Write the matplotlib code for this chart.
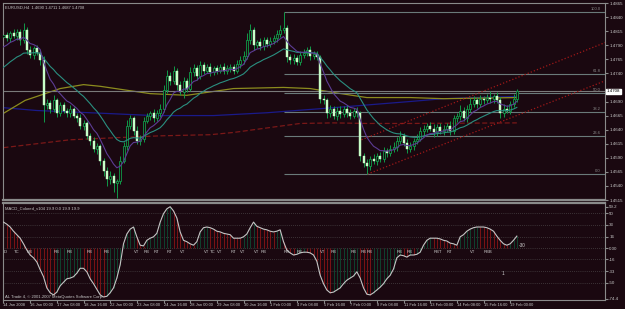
import numpy as np
import pandas as pd
import matplotlib.pyplot as plt

plt.rcParams['font.family'] = ['Liberation Sans', 'DejaVu Sans']

W, H = 625, 309
bg = "#1a0810"
txt = "#c8c8c8"
grey = "#8a8a8a"

# EURUSD H4 closes, one per bar (open = previous close)
first_open = 1.4805
close = [
    1.4808, 1.4802, 1.4811, 1.4806, 1.4813, 1.4799, 1.4817, 1.4781, 1.4772, 1.4785,
    1.4777, 1.4763, 1.4683, 1.4688, 1.4677, 1.4692, 1.4670, 1.4683, 1.4674, 1.4669,
    1.4677, 1.4665, 1.4660, 1.4647, 1.4652, 1.4629, 1.4620, 1.4606, 1.4611, 1.4585,
    1.4567, 1.4552, 1.4558, 1.4545, 1.4549, 1.4585, 1.4611, 1.4647, 1.4660, 1.4638,
    1.4620, 1.4624, 1.4656, 1.4665, 1.4670, 1.4660, 1.4670, 1.4677, 1.4710, 1.4736,
    1.4727, 1.4745, 1.4719, 1.4706, 1.4727, 1.4713, 1.4742, 1.4749, 1.4735, 1.4754,
    1.4745, 1.4752, 1.4742, 1.4749, 1.4745, 1.4751, 1.4744, 1.4749, 1.4752, 1.4745,
    1.4756, 1.4763, 1.4770, 1.4799, 1.4817, 1.4790, 1.4795, 1.4788, 1.4799, 1.4792,
    1.4797, 1.4802, 1.4810, 1.4817, 1.4820, 1.4769, 1.4763, 1.4767, 1.4760, 1.4772,
    1.4777, 1.4781, 1.4770, 1.4774, 1.4769, 1.4695, 1.4692, 1.4670, 1.4677, 1.4665,
    1.4674, 1.4667, 1.4677, 1.4670, 1.4665, 1.4674, 1.4669, 1.4594, 1.4581, 1.4576,
    1.4588, 1.4585, 1.4594, 1.4588, 1.4602, 1.4599, 1.4606, 1.4610, 1.4620, 1.4629,
    1.4617, 1.4606, 1.4611, 1.4620, 1.4624, 1.4638, 1.4642, 1.4647, 1.4642, 1.4635,
    1.4645, 1.4638, 1.4642, 1.4647, 1.4638, 1.4660, 1.4665, 1.4674, 1.4660, 1.4677,
    1.4686, 1.4692, 1.4685, 1.4695, 1.4692, 1.4697, 1.4694, 1.4699, 1.4692, 1.4669,
    1.4677, 1.4674, 1.4685, 1.4695, 1.4708,
]
# wick lengths in pips above / below the body
upper_pips = [
    5, 6, 4, 8, 5, 6, 12, 5, 7, 4,
    6, 5, 8, 6, 5, 9, 4, 6, 7, 5,
    6, 4, 5, 8, 6, 4, 5, 7, 6, 4,
    5, 6, 8, 5, 4, 9, 7, 10, 6, 5,
    8, 6, 7, 5, 4, 6, 5, 8, 9, 10,
    6, 8, 5, 7, 6, 4, 9, 7, 5, 8,
    6, 5, 7, 4, 6, 5, 7, 6, 5, 4,
    8, 7, 9, 12, 10, 6, 5, 7, 6, 5,
    8, 6, 7, 9, 29, 6, 5, 7, 5, 8,
    6, 5, 7, 6, 5, 4, 6, 5, 7, 5,
    6, 8, 5, 6, 7, 5, 6, 4, 5, 7,
    6, 8, 5, 6, 7, 5, 6, 8, 7, 9,
    5, 6, 7, 5, 8, 6, 7, 5, 6, 8,
    5, 7, 6, 5, 8, 6, 5, 9, 7, 6,
    10, 8, 6, 7, 5, 6, 12, 5, 7, 6,
    8, 7, 6, 9, 5,
]
lower_pips = [
    6, 5, 7, 4, 6, 8, 5, 6, 5, 7,
    5, 8, 30, 6, 7, 5, 8, 6, 5, 7,
    6, 5, 7, 6, 8, 5, 7, 6, 9, 8,
    10, 12, 8, 15, 27, 6, 5, 7, 6, 8,
    5, 7, 6, 5, 8, 6, 5, 7, 6, 5,
    7, 6, 8, 5, 9, 6, 5, 7, 6, 5,
    6, 5, 7, 5, 6, 4, 6, 5, 7, 6,
    5, 7, 6, 5, 6, 8, 5, 7, 6, 5,
    6, 5, 7, 6, 5, 8, 6, 7, 5, 6,
    5, 6, 7, 5, 6, 8, 6, 9, 7, 6,
    7, 6, 5, 8, 6, 5, 7, 9, 8, 15,
    7, 6, 8, 5, 6, 7, 5, 6, 8, 5,
    6, 7, 5, 8, 6, 5, 7, 6, 5, 8,
    6, 5, 7, 6, 8, 5, 6, 7, 5, 6,
    5, 6, 7, 5, 6, 5, 7, 6, 5, 8,
    6, 5, 7, 5, 6,
]

# moving averages: fast ones seeded with their value at the left edge
purple_seed, teal_seed = 1.4781, 1.4745
# slow averages read at a few bars
olive_bars = [0, 6.5, 17, 24, 29, 37, 44, 55, 69, 84, 92, 99, 109, 122, 132, 154]
olive_vals = [1.4669, 1.4692, 1.4713, 1.4720, 1.4717, 1.4710, 1.4704, 1.4701,
              1.4713, 1.4715, 1.4713, 1.4706, 1.4697, 1.4697, 1.4695, 1.4697]
blue_bars = [0, 10, 30, 45, 63, 79, 99, 122, 132, 142, 154]
blue_vals = [1.4679, 1.4674, 1.4669, 1.4665, 1.4665, 1.4670, 1.4679, 1.4690,
             1.4695, 1.4697, 1.4699]
red_bars = [0, 10, 20, 35, 47, 62, 69, 89, 99, 109, 122, 154]
red_vals = [1.4608, 1.4615, 1.4622, 1.4626, 1.4629, 1.4631, 1.4635, 1.4651,
            1.4652, 1.4651, 1.4651, 1.4652]

# trend channel
chan_up_bars, chan_up_vals = [107.4, 180.6], [1.4622, 1.4795]
chan_lo_bars, chan_lo_vals = [109.2, 180.6], [1.4561, 1.4727]

# fibonacci retracement
fib_start = 84
fib_low, fib_high = 1.4561, 1.4849
fib_ratios = [0.0, 23.6, 38.2, 50.0, 61.8, 100.0]

price_ticks = [1.4865, 1.4840, 1.4815, 1.4790, 1.4765, 1.4740, 1.4690, 1.4665,
               1.4640, 1.4615, 1.4590, 1.4565, 1.4540, 1.4515]

# MACD colored indicator
macd = [
    37, 34, 30, 24, 19, 14, 6, -3, -10, -14,
    -20, -31, -41, -57, -64, -67, -63, -54, -49, -44,
    -43, -41, -36, -29, -29, -34, -44, -51, -59, -67,
    -70, -69, -64, -57, -43, -24, 6, 20, 27, 30,
    16, 4, 3, 11, 14, 16, 21, 37, 49, 56,
    59, 53, 43, 23, 11, 9, 6, 4, 9, 23,
    29, 30, 29, 27, 24, 23, 21, 20, 19, 14,
    14, 14, 16, 20, 29, 37, 31, 29, 27, 26,
    24, 23, 24, 26, 9, -3, -7, -10, -9, -7,
    -6, -6, -7, -10, -19, -39, -51, -60, -64, -63,
    -60, -57, -51, -46, -43, -40, -34, -43, -57, -66,
    -67, -64, -60, -56, -51, -44, -39, -30, -14, -10,
    -11, -13, -10, -10, -9, -6, 4, 11, 14, 14,
    14, 13, 11, 10, 7, 6, 4, 16, 19, 24,
    27, 29, 30, 30, 30, 29, 27, 24, 17, 11,
    6, 4, 6, 11, 17,
]
macd_levels = [50, 33, 16, 0, -16, -33, -50]
macd_ticks = [59.2, 50, 33, 16, 0, -16, -33, -50, -72.5]
macd_tick_labels = ["59.2", "50", "33", "16", "0.00", "-16", "-33", "-50", "-74.4"]
sig_bars = [0, 3, 7, 15, 19, 25, 30, 39, 42, 45, 49, 53, 60, 62, 64, 68, 71, 75, 77,
            84, 88, 95, 98, 104, 107, 109, 118, 121, 129, 133, 140, 144]
sig_texts = ["D", "TC", "RB", "RB", "RB", "RB", "RB", "VT", "RB", "RT", "RT", "VT",
             "VT", "TC", "VT", "RT", "VT", "VT", "RB", "RB", "RB", "VT", "RB", "RB",
             "RB", "RB", "RB", "RB", "RBT", "RT", "VT", "RBB"]

time_bars = [0, 8, 16, 24, 32, 40, 48, 56, 64, 72, 80, 88, 96, 104, 112, 120, 128,
             136, 144, 152]
time_labels = ["14 Jan 2008", "16 Jan 00:00", "17 Jan 08:00", "18 Jan 16:00",
               "22 Jan 00:00", "23 Jan 08:00", "24 Jan 16:00", "28 Jan 00:00",
               "29 Jan 08:00", "30 Jan 16:00", "1 Feb 00:00", "4 Feb 08:00",
               "5 Feb 16:00", "7 Feb 00:00", "8 Feb 08:00", "11 Feb 16:00",
               "13 Feb 00:00", "14 Feb 08:00", "15 Feb 16:00", "19 Feb 00:00"]

close = np.array(close)
opens = np.r_[first_open, close[:-1]]
high = np.maximum(opens, close) + np.array(upper_pips) * 0.0001
low = np.minimum(opens, close) - np.array(lower_pips) * 0.0001
x = np.arange(len(close))
bull = close >= opens

purple = pd.Series([purple_seed] + list(close)).ewm(span=8, adjust=False).mean().values[1:]
teal = pd.Series([teal_seed] + list(close)).ewm(span=21, adjust=False).mean().values[1:]

fig = plt.figure(figsize=(W / 100, H / 100), dpi=100, facecolor=bg)
ax = fig.add_axes([3 / W, 1 - 200 / H, 602 / W, 197 / H], facecolor=bg)
axm = fig.add_axes([3 / W, 1 - 300 / H, 602 / W, 97 / H], facecolor=bg, sharex=ax)

# main price panel
ax.plot(red_bars, red_vals, color="#7a1818", lw=0.9, ls=(0, (4, 2)), zorder=1)
ax.plot(blue_bars, blue_vals, color="#1a1a8a", lw=0.9, zorder=1)
ax.plot(olive_bars, olive_vals, color="#8c8c1e", lw=0.9, zorder=1)
ax.axhline(close[-1], color="#7a7a7a", lw=0.8, zorder=1)
fib_vals = [fib_low + r / 100 * (fib_high - fib_low) for r in fib_ratios]
ax.hlines(fib_vals, fib_start, 180.45, color="#6a7a7a", lw=0.8, zorder=1)
for r, v in zip(fib_ratios, fib_vals):
    ax.text(179.2, v + 0.0002, f"{r:.1f}", color=grey, fontsize=3, ha="right", va="bottom")
ax.plot(chan_up_bars, chan_up_vals, color="#a01818", lw=0.9, ls=":", zorder=1)
ax.plot(chan_lo_bars, chan_lo_vals, color="#a01818", lw=0.9, ls=":", zorder=1)

ax.vlines(x, low, high, color="#109a48", lw=0.7, zorder=2)
ax.bar(x[bull], (close - opens)[bull], bottom=opens[bull], width=0.6,
       color=bg, edgecolor="#109a48", lw=0.6, zorder=3)
ax.bar(x[~bull], (close - opens)[~bull], bottom=opens[~bull], width=0.6,
       color="#c8ffc8", edgecolor="#c8ffc8", lw=0.3, zorder=3)

ax.plot(x, teal, color="#2a8f80", lw=0.8, zorder=4)
ax.plot(x, purple, color="#5c3c94", lw=0.8, zorder=4)

ax.set_xlim(-0.15, 180.45)
ax.set_ylim(1.4515, 1.4865)
ax.yaxis.tick_right()
ax.set_yticks(price_ticks)
ax.set_yticklabels([f"{p:.4f}" for p in price_ticks])
ax.tick_params(axis="y", colors=grey, labelcolor=txt, labelsize=3.2, length=2, pad=1)
ax.tick_params(axis="x", bottom=False, labelbottom=False)
ax.text(1.003, close[-1], f"{close[-1]:.4f}", transform=ax.get_yaxis_transform(),
        fontsize=3.2, color="black", va="center", ha="left",
        bbox=dict(boxstyle="square,pad=0.15", fc="white", ec="white"))
ax.text(0.004, 0.985, "EURUSD,H4  1.4690 1.4711 1.4687 1.4708", transform=ax.transAxes,
        color=txt, fontsize=3, va="top")

# MACD panel
macd = np.array(macd)
rising = np.r_[False, np.diff(macd) > 0]
axm.vlines(x, 0, macd, colors=np.where(rising, "#0c5236", "#941616"), lw=0.55, zorder=2)
axm.plot(x, macd, color="#c4c4c4", lw=0.8, zorder=3)
axm.hlines(macd_levels, -0.15, 180.45, color="#5a5a5a", lw=0.5, ls=(0, (1, 2)), zorder=1)
for b, t in zip(sig_bars, sig_texts):
    axm.text(b, -3, t, color="#d0d0d0", fontsize=3, ha="left", va="top", zorder=4)
axm.text(154.5, 4, "-30", color="#d0d0d0", fontsize=3.4, ha="left", va="center")
axm.text(149.5, -37, "1", color="#d0d0d0", fontsize=3.4, ha="left", va="center")
axm.text(0.004, 0.97, "MACD_Colored_v104 19.9 0.0 19.9 19.9", transform=axm.transAxes,
         color=txt, fontsize=3, va="top")
axm.text(0.004, 0.015, "AL Trade 4, \u00a9 2001-2007 MetaQuotes Software Corp.",
         transform=axm.transAxes, color=txt, fontsize=3, va="bottom")
axm.set_ylim(-74.3, 64.3)
axm.yaxis.tick_right()
axm.set_yticks(macd_ticks)
axm.set_yticklabels(macd_tick_labels)
axm.tick_params(axis="y", colors=grey, labelcolor=txt, labelsize=3.2, length=2, pad=1)
axm.set_xticks(time_bars)
axm.set_xticklabels(time_labels, ha="left")
axm.tick_params(axis="x", colors=grey, labelcolor=txt, labelsize=2.9, length=2, pad=0.5)

for a in (ax, axm):
    for s in a.spines.values():
        s.set_color(grey)
        s.set_linewidth(0.8)
ax.spines["bottom"].set_linewidth(1.6)
axm.spines["top"].set_linewidth(1.6)

fig.savefig("out.png", dpi=100, facecolor=bg)
